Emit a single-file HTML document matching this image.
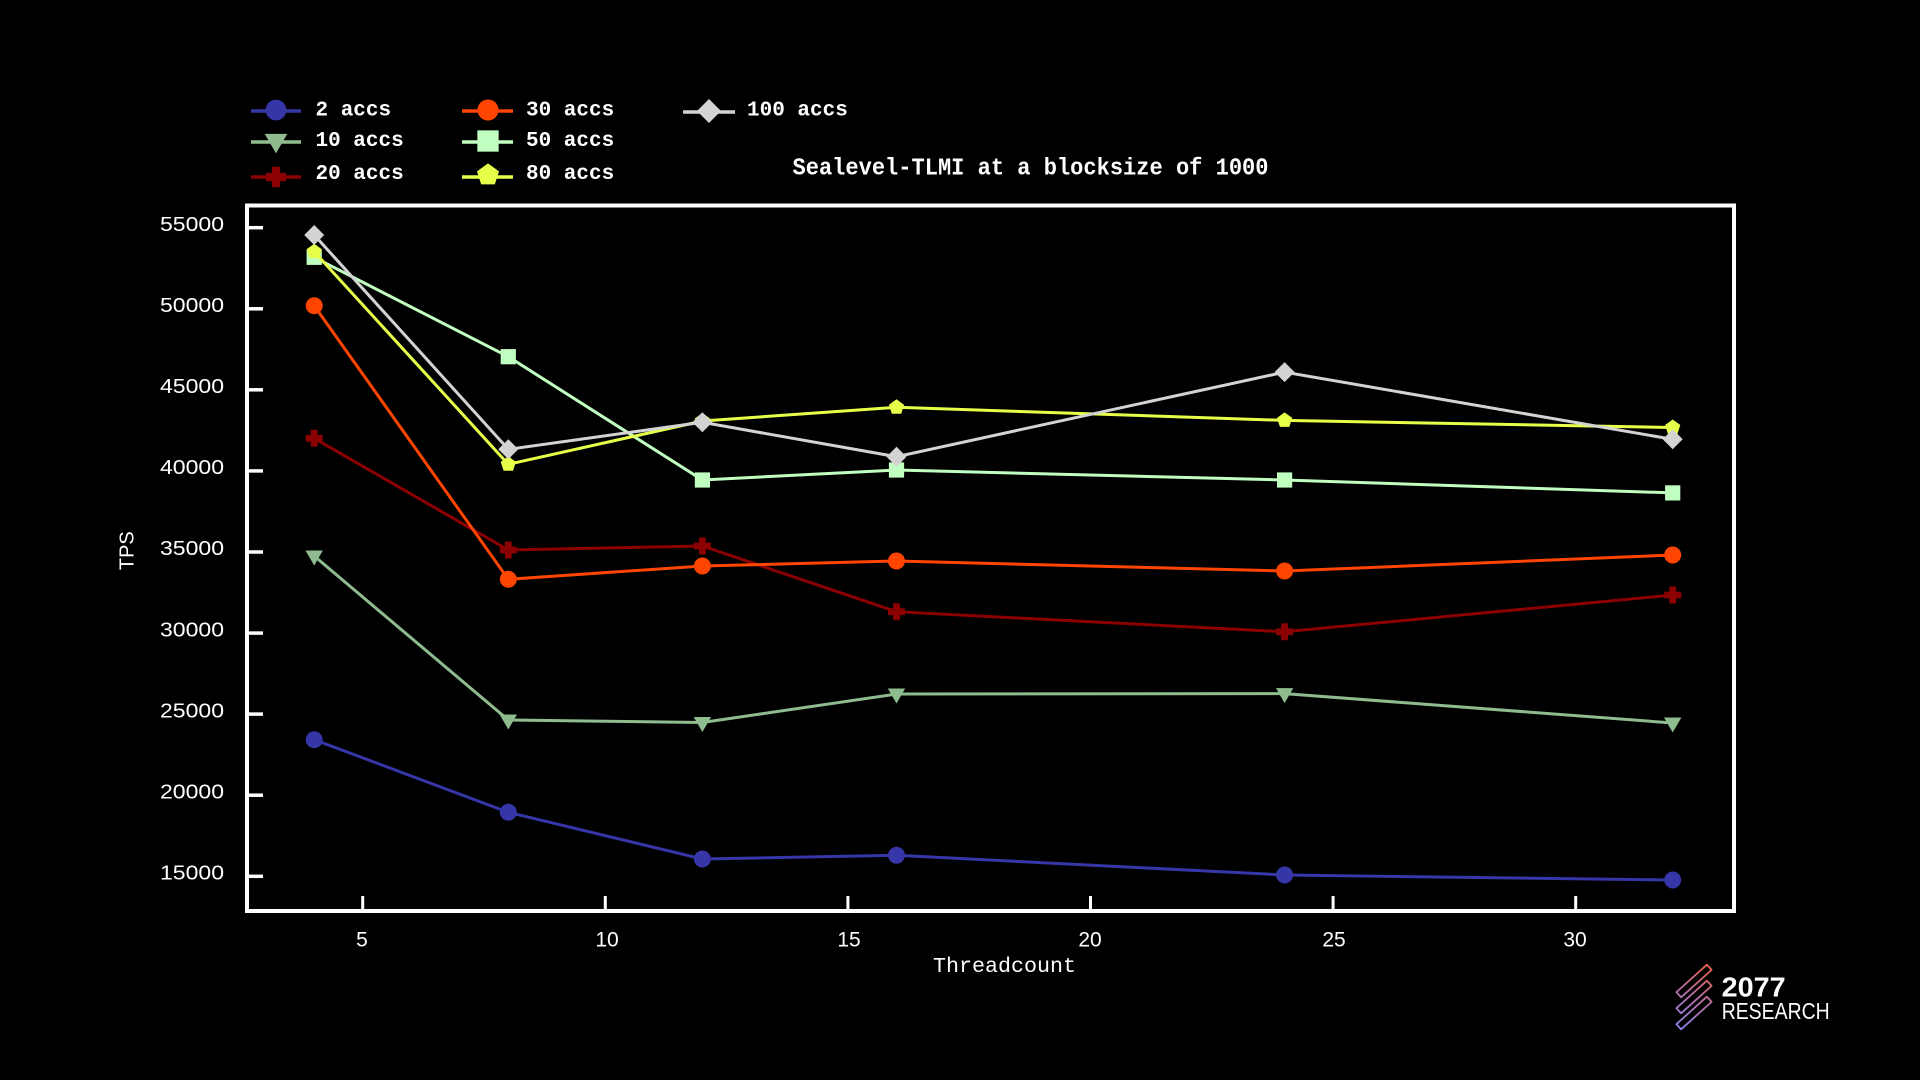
<!DOCTYPE html>
<html>
<head>
<meta charset="utf-8">
<style>
html,body{margin:0;padding:0;background:#000;}
svg{display:block;}
</style>
</head>
<body>
<svg width="1920" height="1080" viewBox="0 0 1920 1080" xmlns="http://www.w3.org/2000/svg">
<defs>
  <circle id="mc" r="8.5"/>
  <polygon id="mt" points="-8.7,-5.5 8.7,-5.5 0,9.5"/>
  <path id="mp" d="M-3.4,-8.5h6.8v5.1h5.1v6.8h-5.1v5.1h-6.8v-5.1h-5.1v-6.8h5.1z"/>
  <rect id="ms" x="-7.6" y="-7.6" width="15.2" height="15.2"/>
  <polygon id="mq" points="0,-8 7.6,-2.47 4.7,6.47 -4.7,6.47 -7.6,-2.47"/>
  <polygon id="md" points="0,-10 10,0 0,10 -10,0"/>
  <linearGradient id="lg" gradientUnits="userSpaceOnUse" x1="1677" y1="1028" x2="1711" y2="966">
    <stop offset="0" stop-color="#8a86f0"/>
    <stop offset="0.5" stop-color="#b870a8"/>
    <stop offset="1" stop-color="#ec6248"/>
  </linearGradient>
</defs>
<rect width="1920" height="1080" fill="#000"/>

<!-- Legend -->
<g font-family="Liberation Mono, monospace" font-weight="bold" font-size="21" fill="#fff">
  <line x1="251" y1="111" x2="301" y2="111" stroke="#3636a8" stroke-width="3.5"/>
  <use href="#mc" transform="translate(276,110) scale(1.22)" fill="#3636a8"/>
  <text x="315.5" y="115.5">2 accs</text>

  <line x1="251" y1="142" x2="301" y2="142" stroke="#8fbc8f" stroke-width="3.5"/>
  <use href="#mt" transform="translate(276,141) scale(1.3)" fill="#8fbc8f"/>
  <text x="315.5" y="146">10 accs</text>

  <line x1="251" y1="177" x2="301" y2="177" stroke="#8b0000" stroke-width="3.5"/>
  <use href="#mp" transform="translate(276,177) scale(1.2)" fill="#8b0000"/>
  <text x="315.5" y="179">20 accs</text>

  <line x1="462" y1="111" x2="513" y2="111" stroke="#ff4500" stroke-width="3.5"/>
  <use href="#mc" transform="translate(488,110) scale(1.24)" fill="#ff4500"/>
  <text x="526" y="115.5">30 accs</text>

  <line x1="462" y1="142" x2="513" y2="142" stroke="#c1ffc1" stroke-width="3.5"/>
  <use href="#ms" transform="translate(488,141) scale(1.4)" fill="#c1ffc1"/>
  <text x="526" y="146">50 accs</text>

  <line x1="462" y1="177" x2="513" y2="177" stroke="#e8ff4a" stroke-width="3.5"/>
  <use href="#mq" transform="translate(488,175) scale(1.45)" fill="#e8ff4a"/>
  <text x="526" y="179">80 accs</text>

  <line x1="683" y1="112" x2="735" y2="112" stroke="#d3d3d3" stroke-width="3.5"/>
  <use href="#md" transform="translate(709,111) scale(1.2)" fill="#d3d3d3"/>
  <text x="747" y="115.5">100 accs</text>
</g>

<!-- Title -->
<text x="792.5" y="174.5" font-family="Liberation Mono, monospace" font-weight="bold" font-size="24" fill="#fff" textLength="476" lengthAdjust="spacingAndGlyphs">Sealevel-TLMI at a blocksize of 1000</text>

<!-- Frame -->
<path d="M247,205.5 H1734 V911 H247 Z" fill="none" stroke="#fff" stroke-width="4"/>

<!-- Y ticks -->
<g stroke="#fff" stroke-width="3.5">
  <line x1="249" y1="227.7" x2="263" y2="227.7"/>
  <line x1="249" y1="308.8" x2="263" y2="308.8"/>
  <line x1="249" y1="389.8" x2="263" y2="389.8"/>
  <line x1="249" y1="470.9" x2="263" y2="470.9"/>
  <line x1="249" y1="552.0" x2="263" y2="552.0"/>
  <line x1="249" y1="633.1" x2="263" y2="633.1"/>
  <line x1="249" y1="714.1" x2="263" y2="714.1"/>
  <line x1="249" y1="795.2" x2="263" y2="795.2"/>
  <line x1="249" y1="876.3" x2="263" y2="876.3"/>
</g>
<g font-family="Liberation Sans, sans-serif" font-size="20.5" fill="#fff">
  <text x="160" y="231" textLength="64" lengthAdjust="spacingAndGlyphs">55000</text>
  <text x="160" y="312" textLength="64" lengthAdjust="spacingAndGlyphs">50000</text>
  <text x="160" y="393" textLength="64" lengthAdjust="spacingAndGlyphs">45000</text>
  <text x="160" y="474" textLength="64" lengthAdjust="spacingAndGlyphs">40000</text>
  <text x="160" y="555.2" textLength="64" lengthAdjust="spacingAndGlyphs">35000</text>
  <text x="160" y="636.3" textLength="64" lengthAdjust="spacingAndGlyphs">30000</text>
  <text x="160" y="717.3" textLength="64" lengthAdjust="spacingAndGlyphs">25000</text>
  <text x="160" y="798.4" textLength="64" lengthAdjust="spacingAndGlyphs">20000</text>
  <text x="160" y="879.5" textLength="64" lengthAdjust="spacingAndGlyphs">15000</text>
</g>

<!-- X ticks -->
<g stroke="#fff" stroke-width="3">
  <line x1="362.7" y1="896" x2="362.7" y2="910"/>
  <line x1="605.3" y1="896" x2="605.3" y2="910"/>
  <line x1="847.9" y1="896" x2="847.9" y2="910"/>
  <line x1="1090.5" y1="896" x2="1090.5" y2="910"/>
  <line x1="1333.1" y1="896" x2="1333.1" y2="910"/>
  <line x1="1575.7" y1="896" x2="1575.7" y2="910"/>
</g>
<g font-family="Liberation Sans, sans-serif" font-size="21" fill="#fff" text-anchor="middle">
  <text x="362" y="946.5">5</text>
  <text x="607" y="946.5">10</text>
  <text x="849" y="946.5">15</text>
  <text x="1090" y="946.5">20</text>
  <text x="1334" y="946.5">25</text>
  <text x="1575" y="946.5">30</text>
</g>

<!-- Axis labels -->
<text transform="translate(133.7,550.7) rotate(-90)" text-anchor="middle" font-family="Liberation Sans, sans-serif" font-size="20" fill="#fff">TPS</text>
<text x="933" y="972" font-family="Liberation Mono, monospace" font-size="21.5" fill="#fff" textLength="143" lengthAdjust="spacingAndGlyphs">Threadcount</text>

<!-- Series -->
<polyline fill="none" stroke-width="3" stroke="#3636a8" points="314.2,739.7 508.3,812.3 702.4,859 896.5,855.3 1284.6,875 1672.7,880"/>
<g fill="#3636a8">
  <use href="#mc" x="314.2" y="739.7"/><use href="#mc" x="508.3" y="812.3"/><use href="#mc" x="702.4" y="859"/>
  <use href="#mc" x="896.5" y="855.3"/><use href="#mc" x="1284.6" y="875"/><use href="#mc" x="1672.7" y="880"/>
</g>

<polyline fill="none" stroke-width="3" stroke="#8fbc8f" points="314.2,556 508.3,720 702.4,722.5 896.5,694 1284.6,693.6 1672.7,723"/>
<g fill="#8fbc8f">
  <use href="#mt" x="314.2" y="556"/><use href="#mt" x="508.3" y="720"/><use href="#mt" x="702.4" y="722.5"/>
  <use href="#mt" x="896.5" y="694"/><use href="#mt" x="1284.6" y="693.6"/><use href="#mt" x="1672.7" y="723"/>
</g>

<polyline fill="none" stroke-width="3" stroke="#8b0000" points="314.2,438.3 508.3,550 702.4,546 896.5,611.7 1284.6,631.8 1672.7,595"/>
<g fill="#8b0000">
  <use href="#mp" x="314.2" y="438.3"/><use href="#mp" x="508.3" y="550"/><use href="#mp" x="702.4" y="546"/>
  <use href="#mp" x="896.5" y="611.7"/><use href="#mp" x="1284.6" y="631.8"/><use href="#mp" x="1672.7" y="595"/>
</g>

<polyline fill="none" stroke-width="3" stroke="#ff4500" points="314.2,305.7 508.3,579.3 702.4,566 896.5,561 1284.6,571 1672.7,555"/>
<g fill="#ff4500">
  <use href="#mc" x="314.2" y="305.7"/><use href="#mc" x="508.3" y="579.3"/><use href="#mc" x="702.4" y="566"/>
  <use href="#mc" x="896.5" y="561"/><use href="#mc" x="1284.6" y="571"/><use href="#mc" x="1672.7" y="555"/>
</g>

<polyline fill="none" stroke-width="3" stroke="#c1ffc1" points="314.2,257.3 508.3,356.7 702.4,480 896.5,470 1284.6,480 1672.7,492.9"/>
<g fill="#c1ffc1">
  <use href="#ms" x="314.2" y="257.3"/><use href="#ms" x="508.3" y="356.7"/><use href="#ms" x="702.4" y="480"/>
  <use href="#ms" x="896.5" y="470"/><use href="#ms" x="1284.6" y="480"/><use href="#ms" x="1672.7" y="492.9"/>
</g>

<polyline fill="none" stroke-width="3" stroke="#e8ff4a" points="314.2,251.7 508.3,464.3 702.4,421 896.5,407.3 1284.6,420.4 1672.7,427.5"/>
<g fill="#e8ff4a">
  <use href="#mq" x="314.2" y="251.7"/><use href="#mq" x="508.3" y="464.3"/><use href="#mq" x="702.4" y="421"/>
  <use href="#mq" x="896.5" y="407.3"/><use href="#mq" x="1284.6" y="420.4"/><use href="#mq" x="1672.7" y="427.5"/>
</g>

<polyline fill="none" stroke-width="3" stroke="#d3d3d3" points="314.2,235 508.3,449.3 702.4,422.3 896.5,456.7 1284.6,372.1 1672.7,439.3"/>
<g fill="#d3d3d3">
  <use href="#md" x="314.2" y="235"/><use href="#md" x="508.3" y="449.3"/><use href="#md" x="702.4" y="422.3"/>
  <use href="#md" x="896.5" y="456.7"/><use href="#md" x="1284.6" y="372.1"/><use href="#md" x="1672.7" y="439.3"/>
</g>

<!-- Logo -->
<path fill="none" stroke="url(#lg)" stroke-width="1.8" stroke-linejoin="round"
  d="M1706.89,964.68 L1711.57,969.88 L1681.11,997.32 L1676.43,992.12 Z
     M1706.89,980.68 L1711.57,985.88 L1681.11,1013.32 L1676.43,1008.12 Z
     M1706.89,996.68 L1711.57,1001.88 L1681.11,1029.32 L1676.43,1024.12 Z"/>
<text x="1721.7" y="996.7" font-family="Liberation Sans, sans-serif" font-weight="bold" font-size="28" fill="#fff" textLength="64" lengthAdjust="spacingAndGlyphs">2077</text>
<text x="1721.7" y="1019" font-family="Liberation Sans, sans-serif" font-size="23.5" fill="#fff" textLength="108" lengthAdjust="spacingAndGlyphs">RESEARCH</text>
</svg>
</body>
</html>
